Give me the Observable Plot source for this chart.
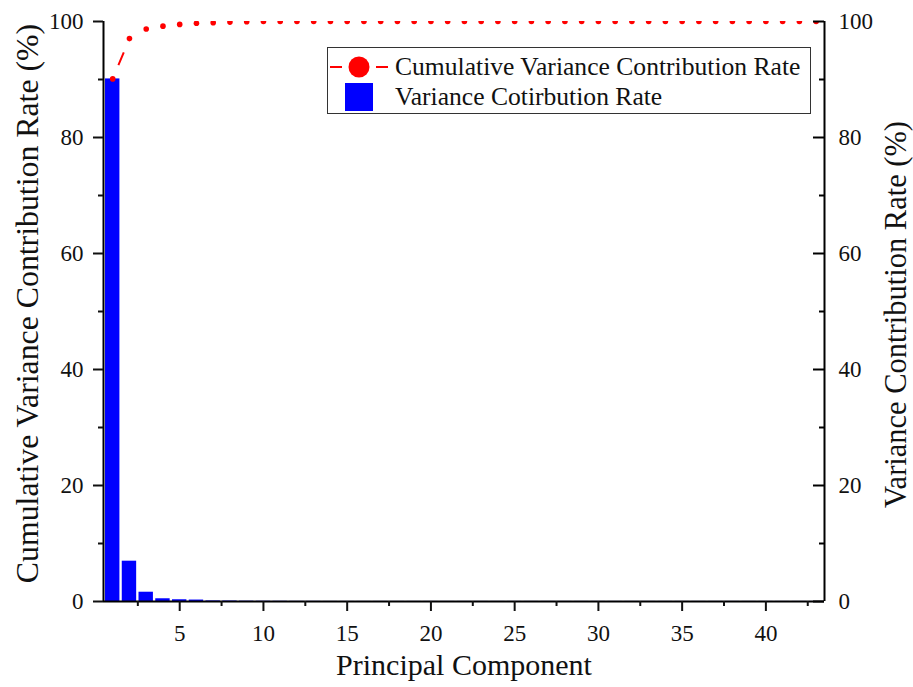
<!DOCTYPE html>
<html>
<head>
<meta charset="utf-8">
<script src="https://cdn.jsdelivr.net/npm/d3@7"></script>
<script src="https://cdn.jsdelivr.net/npm/@observablehq/plot@0.6"></script>
<style>
  html, body { margin: 0; padding: 0; background: #fff; }
  #wrap { position: relative; width: 913px; height: 687px; font-family: "Liberation Serif", "Times New Roman", serif; }
  #legend { position: absolute; left: 0; top: 0; pointer-events: none; }
</style>
</head>
<body>
<div id="wrap"></div>
<script>
// ---- data ----
const components = [1,2,3,4,5,6,7,8,9,10,11,12,13,14,15,16,17,18,19,20,21,22,23,24,25,26,27,28,29,30,31,32,33,34,35,36,37,38,39,40,41,42,43];
const varianceRate = [90.1,6.95,1.6,0.47,0.3,0.25,0.1,0.08,0.05,0.04,0.03,0.02,0.02,0.01,0.01,0.01,0.01,0.01,0.01,0.01,0.01,0.01,0.01,0.01,0.01,0.01,0.01,0.01,0.01,0.01,0.01,0.01,0.01,0.01,0.01,0.01,0.01,0.01,0.01,0.01,0.01,0.01,0.01];
const cumulativeRate = [90.1,97.05,98.7,99.2,99.5,99.7,99.8,99.9,99.95,100,100,100,100,100,100,100,100,100,100,100,100,100,100,100,100,100,100,100,100,100,100,100,100,100,100,100,100,100,100,100,100,100,100];
const xDomain = [0.45, 43.5];
const yDomain = [0, 100];
const xTicks = [5,10,15,20,25,30,35,40];
const xMinorTicks = [2.5,7.5,12.5,17.5,22.5,27.5,32.5,37.5,42.5];
const yTicks = [0,20,40,60,80,100];
const yMinorTicks = [10,30,50,70,90];
const xLabel = "Principal Component";
const yLeftLabel = "Cumulative Variance Contribution Rate (%)";
const yRightLabel = "Variance Contribution Rate (%)";
const legendLine = "Cumulative Variance Contribution Rate";
const legendBar = "Variance Cotirbution Rate";

const rows = components.map((pc, i) => ({pc, v: varianceRate[i], c: cumulativeRate[i]}));
const segs = rows.slice(0, -1).map((d, i) => ({x1: d.pc, y1: d.c, x2: rows[i + 1].pc, y2: rows[i + 1].c}));

const RED = "#ff0000", BLUE = "#0000ff", INK = "#111";

const chart = Plot.plot({
  width: 913, height: 687,
  marginLeft: 103, marginRight: 89, marginTop: 21, marginBottom: 86,
  style: {fontFamily: "'Liberation Serif', 'Times New Roman', serif", fontSize: "23px", color: INK, background: "white", overflow: "visible"},
  x: {domain: xDomain},
  y: {domain: yDomain},
  marks: [
    Plot.rectY(rows, {x1: d => d.pc - 0.43, x2: d => d.pc + 0.43, y1: 0, y2: "v", fill: BLUE}),
    Plot.link(segs, {
      x1: "x1", y1: "y1", x2: "x2", y2: "y2", stroke: RED, strokeWidth: 2,
      render(index, scales, values, dimensions, context, next) {
        const g = next(index, scales, values, dimensions, context);
        const paths = g.querySelectorAll("path, line");
        index.forEach((i, k) => {
          const L = Math.hypot(values.x2[i] - values.x1[i], values.y2[i] - values.y1[i]);
          const vis = L - 18;
          if (!paths[k]) return;
          if (vis < 6) paths[k].setAttribute("stroke-dasharray", `0 ${L + 2}`);
          else {
            const dash = Math.min(14, vis);
            paths[k].setAttribute("stroke-dasharray", `0 ${(L - dash) / 2} ${dash} ${L + 2}`);
          }
        });
        return g;
      }
    }),
    Plot.dot(rows, {x: "pc", y: "c", r: 2.8, fill: RED, stroke: null, clip: true}),
    // axis lines
    Plot.ruleX([xDomain[0]], {stroke: "#000", strokeWidth: 2}),
    Plot.ruleX([xDomain[1]], {stroke: "#000", strokeWidth: 2}),
    Plot.ruleY([yDomain[0]], {stroke: "#000", strokeWidth: 2}),
    // bottom axis
    Plot.axisX(xTicks, {anchor: "bottom", tickSize: 10, tickPadding: 13, strokeWidth: 2, label: null, fontSize: 23}),
    Plot.axisX(xMinorTicks, {anchor: "bottom", tickSize: 5, strokeWidth: 2, label: null, tickFormat: () => ""}),
    // left axis
    Plot.axisY(yTicks, {anchor: "left", tickSize: 10, tickPadding: 10, strokeWidth: 2, label: null, fontSize: 23}),
    Plot.axisY(yMinorTicks, {anchor: "left", tickSize: 5, strokeWidth: 2, label: null, tickFormat: () => ""}),
    // right axis (inward ticks)
    Plot.axisY(yTicks, {anchor: "right", tickSize: 0, tickPadding: 14, label: null, fontSize: 23}),
    Plot.tickY(yTicks, {y: d => d, insetLeft: 710, stroke: "#000", strokeWidth: 2}),
    Plot.tickY(yMinorTicks, {y: d => d, insetLeft: 716, stroke: "#000", strokeWidth: 2}),
    // titles
    Plot.text([yLeftLabel], {text: d => d, frameAnchor: "left", dx: -76, dy: -8, rotate: -90, textAnchor: "middle", lineAnchor: "middle", fontSize: 31.8, fill: INK}),
    Plot.text([yRightLabel], {text: d => d, frameAnchor: "right", dx: 72, dy: 3, rotate: -90, textAnchor: "middle", lineAnchor: "middle", fontSize: 30.5, fill: INK}),
    Plot.text([xLabel], {text: d => d, frameAnchor: "bottom", dy: 64, textAnchor: "middle", lineAnchor: "middle", fontSize: 30, fill: INK})
  ]
});

const wrap = document.getElementById("wrap");
wrap.appendChild(chart);

// legend overlay
const ns = "http://www.w3.org/2000/svg";
const lg = document.createElementNS(ns, "svg");
lg.setAttribute("id", "legend");
lg.setAttribute("width", 913);
lg.setAttribute("height", 687);
lg.innerHTML = `
  <rect x="327.5" y="47.5" width="483" height="66" fill="white" stroke="#333" stroke-width="1"/>
  <line x1="330" y1="67" x2="342" y2="67" stroke="${RED}" stroke-width="2"/>
  <line x1="376" y1="67" x2="388" y2="67" stroke="${RED}" stroke-width="2"/>
  <circle cx="359" cy="67" r="10.5" fill="${RED}"/>
  <rect x="345" y="83" width="28" height="28" fill="${BLUE}"/>
  <text x="395" y="67" dy="0.32em" font-size="25.6" fill="${INK}" font-family="'Liberation Serif', 'Times New Roman', serif">${legendLine}</text>
  <text x="395" y="97" dy="0.32em" font-size="25.6" fill="${INK}" font-family="'Liberation Serif', 'Times New Roman', serif">${legendBar}</text>
`;
wrap.appendChild(lg);
</script>
</body>
</html>
